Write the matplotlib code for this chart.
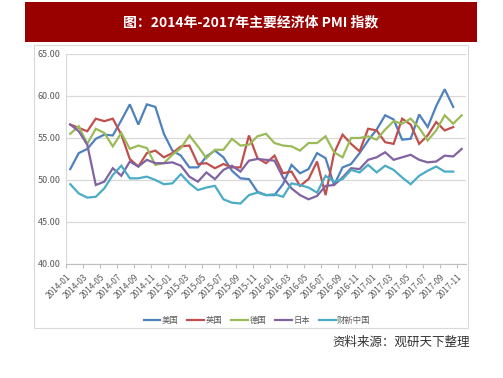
import numpy as np
import matplotlib
matplotlib.use("Agg")
import matplotlib.pyplot as plt
from matplotlib.patches import Rectangle
from matplotlib.ticker import FormatStrFormatter

plt.rcParams["font.family"] = ["Noto Sans CJK SC", "DejaVu Sans"]

months = [f"{y}-{m:02d}" for y in range(2014, 2018) for m in range(1, 13)][:47]

us = [51.3, 53.2, 53.7, 54.9, 55.4, 55.3, 57.1, 59.0, 56.6, 59.0, 58.7, 55.5,
      53.5, 52.9, 51.5, 51.5, 52.8, 53.5, 52.7, 51.1, 50.2, 50.1, 48.6, 48.2,
      48.2, 49.5, 51.8, 50.8, 51.3, 53.2, 52.6, 49.4, 51.5, 51.9, 53.2, 54.7,
      56.0, 57.7, 57.2, 54.8, 54.9, 57.8, 56.3, 58.8, 60.8, 58.7, np.nan]
uk = [56.6, 56.2, 55.8, 57.3, 57.0, 57.3, 55.4, 52.5, 51.6, 53.2, 53.5, 52.7,
      53.2, 54.0, 54.1, 51.9, 52.0, 51.4, 51.9, 51.5, 51.5, 55.3, 52.6, 52.0,
      52.9, 50.8, 51.0, 49.3, 50.1, 52.2, 48.2, 53.2, 55.4, 54.3, 53.4, 56.1,
      55.9, 54.5, 54.3, 57.3, 56.6, 54.3, 55.3, 56.9, 55.9, 56.3, np.nan]
germany = [55.5, 56.4, 54.3, 56.1, 55.6, 54.0, 55.6, 53.7, 54.1, 53.8, 51.8, 52.0,
           53.0, 53.8, 55.3, 54.0, 52.6, 53.6, 53.6, 54.9, 54.1, 54.2, 55.2, 55.5,
           54.4, 54.1, 54.0, 53.5, 54.4, 54.4, 55.2, 53.3, 52.7, 55.0, 55.0, 55.2,
           54.8, 56.0, 57.0, 56.7, 57.3, 56.2, 54.7, 55.9, 57.7, 56.7, 57.7]
japan = [56.6, 55.8, 54.2, 49.4, 49.8, 51.4, 50.5, 52.2, 51.6, 52.4, 52.0, 52.0,
         52.1, 51.7, 50.4, 49.8, 50.9, 50.1, 51.2, 51.7, 51.0, 52.3, 52.5, 52.4,
         52.3, 50.3, 49.0, 48.2, 47.7, 48.1, 49.3, 49.4, 50.3, 51.4, 51.3, 52.4,
         52.7, 53.3, 52.4, 52.7, 53.0, 52.4, 52.1, 52.2, 52.9, 52.8, 53.7]
china = [49.5, 48.4, 47.9, 48.0, 49.0, 50.6, 51.7, 50.2, 50.2, 50.4, 50.0, 49.5,
         49.6, 50.7, 49.6, 48.8, 49.1, 49.3, 47.7, 47.3, 47.2, 48.2, 48.5, 48.2,
         48.3, 48.0, 49.6, 49.4, 49.1, 48.5, 50.5, 49.8, 50.1, 51.2, 50.9, 51.8,
         50.9, 51.7, 51.2, 50.3, 49.5, 50.5, 51.1, 51.6, 51.0, 51.0, np.nan]

names = ["美国", "英国", "德国", "日本", "财新中国"]
colors = ["#4F81BD", "#C0504D", "#9BBB59", "#8064A2", "#4BACC6"]

fig = plt.figure(figsize=(5.03, 3.78), dpi=100)
fig.patch.set_facecolor("white")

# red title bar
fig.patches.append(Rectangle((0.0497, 0.889), 0.8986, 0.1058, transform=fig.transFigure,
                             facecolor="#990000", edgecolor="none", zorder=0))
fig.text(0.499, 0.942, "图：2014年-2017年主要经济体 PMI 指数", color="white",
         fontsize=10, fontweight="bold", ha="center", va="center")

# chart frame
fig.patches.append(Rectangle((0.0676, 0.1323), 0.8628, 0.7487, transform=fig.transFigure,
                             facecolor="none", edgecolor="#d9d9d9", lw=0.8, zorder=0))

ax = fig.add_axes([0.1312, 0.3016, 0.7952, 0.5556])
x = np.arange(len(months))
for series, name, c in zip([us, uk, germany, japan, china], names, colors):
    ax.plot(x, series, color=c, lw=1.6, label=name, solid_joinstyle="miter")

ax.set_xlim(-0.5, len(months) - 0.5)
ax.set_ylim(40, 65)
ax.set_yticks([40, 45, 50, 55, 60, 65])
ax.yaxis.set_major_formatter(FormatStrFormatter("%.2f"))
ax.grid(axis="y", color="#d9d9d9", lw=0.9)
ax.set_axisbelow(True)
for s in ["top", "right"]:
    ax.spines[s].set_visible(False)
ax.spines["left"].set_color("#d9d9d9")
ax.spines["bottom"].set_color("#bfbfbf")
ax.tick_params(axis="y", length=0, labelsize=6.5, labelcolor="#595959", pad=4)

ax.set_xticks(x[::2] - 0.5)
ax.set_xticklabels(months[::2], rotation=45, ha="right", rotation_mode="anchor",
                   fontsize=6, color="#595959")
ax.tick_params(axis="x", length=3, color="#bfbfbf", pad=3)

fig.legend(loc="center", bbox_to_anchor=(0.511, 0.1534), ncol=5, frameon=False,
           fontsize=6, handlelength=2.0, handletextpad=0.15, columnspacing=1.1,
           labelcolor="#595959")

fig.text(0.934, 0.0952, "资料来源：观研天下整理", ha="right", va="center", fontsize=9,
         color="#333333")

fig.savefig("out.png", dpi=100)
